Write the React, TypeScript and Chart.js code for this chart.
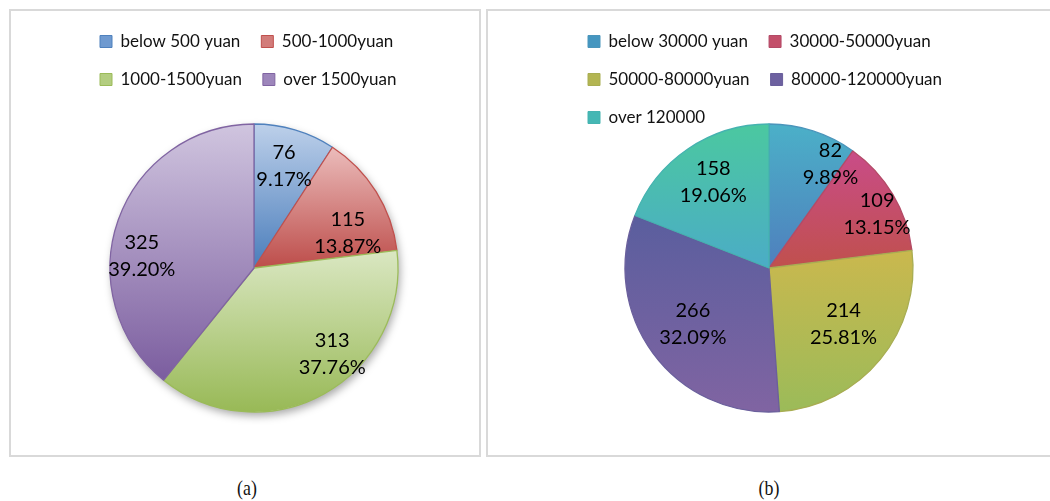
import React, { useEffect, useRef } from 'react';
import { Chart, registerables } from 'chart.js';

Chart.register(...registerables);

// ---------- data ----------
const livingCostCategories = ['below 500 yuan', '500-1000yuan', '1000-1500yuan', 'over 1500yuan'];
const livingCostValues = [76, 115, 313, 325];

const incomeCategories = ['below 30000 yuan', '30000-50000yuan', '50000-80000yuan', '80000-120000yuan', 'over 120000'];
const incomeValues = [82, 109, 214, 266, 158];

const captions = ['(a)', '(b)'];

// ---------- styles ----------
const livingTop = ['#bdd0ea', '#ebbcbb', '#dae7c2', '#d0c5df'];
const livingBottom = ['#4a7dbb', '#bd4d4a', '#98b956', '#7b5d9f'];
const livingBorder = ['#4f81bd', '#c0504d', '#9bbb59', '#8064a2'];
const livingLegend = ['#6f9ad0', '#d27c7a', '#b3cd80', '#9d86bb'];
// label nudges (px) from the mid-angle anchor, mimicking Excel's best-fit placement
const livingLabelNudgeX = [-1, 1, 25, -9];
const livingLabelNudgeY = [3, 23, -10, 24];

const incomeTop = ['#4bb0c8', '#c94c88', '#cab84e', '#5a5e9e', '#4bc8a0'];
const incomeBottom = ['#4f7fbd', '#c0504d', '#9bbb59', '#8064a2', '#4bacc6'];
const incomeBorder = ['#4b95bb', '#b34a66', '#a8ad52', '#6a5f9c', '#45b3b0'];
const incomeLegend = ['#4596c0', '#c34f6a', '#b3b552', '#6d61a0', '#45b7b4'];
const incomeLabelNudgeX = [28, 14, -10, 12, 6];
const incomeLabelNudgeY = [0, 2, -13, -9, 4];

Chart.defaults.font.family = 'Lato';

function sliceGradient(tops: string[], bottoms: string[], radius: number) {
  return (ctx: any) => {
    const chart = ctx.chart;
    const area = chart.chartArea;
    const i: number = ctx.dataIndex;
    if (!area || i === undefined || i === null) return bottoms[0];
    const data: number[] = ctx.dataset.data;
    const total = data.reduce((a, b) => a + b, 0);
    const before = data.slice(0, i).reduce((a, b) => a + b, 0);
    const start = -Math.PI / 2 + (before / total) * 2 * Math.PI;
    const end = start + (data[i] / total) * 2 * Math.PI;
    const cy = (area.top + area.bottom) / 2;
    const ys = [cy, cy + radius * Math.sin(start), cy + radius * Math.sin(end)];
    let minY = Math.min(...ys);
    let maxY = Math.max(...ys);
    const contains = (a: number) => {
      for (const k of [-2, -1, 0, 1, 2]) {
        const t = a + k * 2 * Math.PI;
        if (t >= start && t <= end) return true;
      }
      return false;
    };
    if (contains(Math.PI / 2)) maxY = cy + radius;
    if (contains(-Math.PI / 2)) minY = cy - radius;
    const g = chart.ctx.createLinearGradient(0, minY, 0, maxY);
    g.addColorStop(0, tops[i]);
    g.addColorStop(1, bottoms[i]);
    return g;
  };
}

type PieProps = {
  labels: string[];
  values: number[];
  tops: string[];
  bottoms: string[];
  borders: string[];
  legendColors: string[];
  nudgeX: number[];
  nudgeY: number[];
  left: number;
  top: number;
  width: number;
  height: number;
  padBottom: number;
  radius: number;
  labelRadius: number;
  shadow: boolean;
};

function PieChart(p: PieProps) {
  const ref = useRef<HTMLCanvasElement | null>(null);
  useEffect(() => {
    if (!ref.current) return;
    const labelPlugin = {
      id: 'valueLabels',
      afterDatasetsDraw(chart: any) {
        const meta = chart.getDatasetMeta(0);
        const data = chart.data.datasets[0].data as number[];
        const total = data.reduce((a, b) => a + b, 0);
        const c = chart.ctx;
        c.save();
        c.font = '20px Lato';
        c.fillStyle = '#000';
        c.textAlign = 'center';
        c.textBaseline = 'middle';
        meta.data.forEach((arc: any, i: number) => {
          const { x, y, startAngle, endAngle, outerRadius } = arc.getProps(
            ['x', 'y', 'startAngle', 'endAngle', 'outerRadius'],
            true
          );
          const mid = (startAngle + endAngle) / 2;
          const px = x + Math.cos(mid) * outerRadius * p.labelRadius + p.nudgeX[i];
          const py = y + Math.sin(mid) * outerRadius * p.labelRadius + p.nudgeY[i];
          c.fillText(String(data[i]), px, py - 13.5);
          c.fillText(((data[i] / total) * 100).toFixed(2) + '%', px, py + 13.5);
        });
        c.restore();
      },
    };
    const shadowPlugin = {
      id: 'pieShadow',
      beforeDatasetsDraw(chart: any) {
        if (!p.shadow) return;
        const arc = chart.getDatasetMeta(0).data[0] as any;
        if (!arc) return;
        const { x, y, outerRadius } = arc.getProps(['x', 'y', 'outerRadius'], true);
        const c = chart.ctx;
        c.save();
        c.shadowColor = 'rgba(0,0,0,0.35)';
        c.shadowBlur = 9;
        c.shadowOffsetX = 2;
        c.shadowOffsetY = 4;
        c.beginPath();
        c.arc(x, y, outerRadius, 0, Math.PI * 2);
        c.fillStyle = '#ffffff';
        c.fill();
        c.restore();
      },
    };
    const chart = new Chart(ref.current, {
      type: 'pie',
      data: {
        labels: p.labels,
        datasets: [
          {
            data: p.values,
            backgroundColor: sliceGradient(p.tops, p.bottoms, p.radius) as any,
            borderColor: p.borders,
            borderWidth: 1.3,
            radius: p.radius,
            clip: false,
          } as any,
        ],
      },
      options: {
        responsive: false,
        animation: false,
        layout: { padding: { top: 0, left: 0, right: 0, bottom: p.padBottom } },
        plugins: {
          tooltip: { enabled: false },
          legend: {
            position: 'top',
            align: 'start',
            labels: {
              boxWidth: 12,
              boxHeight: 12,
              padding: 21,
              color: '#111',
              font: { family: 'Lato', size: 17 },
              generateLabels(chart: any) {
                return (chart.data.labels as string[]).map((text, i) => ({
                  text,
                  fillStyle: p.legendColors[i],
                  strokeStyle: p.borders[i],
                  lineWidth: 1,
                  hidden: false,
                  index: i,
                  fontColor: '#111',
                }));
              },
            },
          },
        },
      },
      plugins: [shadowPlugin, labelPlugin],
    });
    return () => chart.destroy();
  }, []);
  return (
    <canvas
      ref={ref}
      width={p.width}
      height={p.height}
      style={{ position: 'absolute', left: p.left, top: p.top, width: p.width, height: p.height }}
    />
  );
}

export default function App() {
  const boxStyle: React.CSSProperties = {
    position: 'absolute',
    top: 9,
    height: 448,
    border: '2px solid #d9d9d9',
    boxSizing: 'border-box',
    background: '#fff',
  };
  const captionStyle: React.CSSProperties = {
    position: 'absolute',
    top: 474,
    width: 60,
    textAlign: 'center',
    fontFamily: '"Liberation Serif", serif',
    fontSize: 21,
    lineHeight: '28px',
    color: '#111',
    transform: 'scaleX(0.85)',
  };
  return (
    <div style={{ position: 'absolute', left: 0, top: 0, width: 1050, height: 501, overflow: 'hidden', background: '#fff' }}>
      <div style={{ ...boxStyle, left: 9, width: 472 }} />
      <div style={{ ...boxStyle, left: 486, width: 600 }} />
      <PieChart
        labels={livingCostCategories}
        values={livingCostValues}
        tops={livingTop}
        bottoms={livingBottom}
        borders={livingBorder}
        legendColors={livingLegend}
        nudgeX={livingLabelNudgeX}
        nudgeY={livingLabelNudgeY}
        left={79}
        top={12}
        width={350}
        height={440}
        padBottom={14}
        radius={144}
        labelRadius={0.76}
        shadow={true}
      />
      <PieChart
        labels={incomeCategories}
        values={incomeValues}
        tops={incomeTop}
        bottoms={incomeBottom}
        borders={incomeBorder}
        legendColors={incomeLegend}
        nudgeX={incomeLabelNudgeX}
        nudgeY={incomeLabelNudgeY}
        left={567}
        top={12}
        width={404}
        height={440}
        padBottom={52}
        radius={144}
        labelRadius={0.76}
        shadow={false}
      />
      <div style={{ ...captionStyle, left: 217 }}>{captions[0]}</div>
      <div style={{ ...captionStyle, left: 739 }}>{captions[1]}</div>
    </div>
  );
}
